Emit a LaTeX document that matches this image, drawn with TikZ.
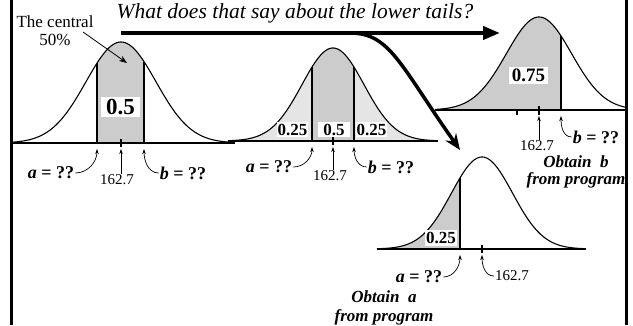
\documentclass[tikz,border=0pt]{standalone}
\usepackage{fontspec}
\setmainfont{Liberation Serif}
\usetikzlibrary{arrows.meta}
\newcommand\askq[1]{\textit{#1} = ??}
\tikzset{
 curve/.style={line width=1.1pt},
 base/.style={line width=2pt},
 split/.style={line width=2pt},
 tickmark/.style={line width=2pt},
 dark/.style={fill=black!20},
 light/.style={fill=black!10},
 val/.style={fill=white, inner xsep=1pt, inner ysep=2pt, font=\fontsize{17}{17}\selectfont\bfseries},
 ask/.style={font=\fontsize{18}{18}\selectfont\bfseries, inner sep=1pt},
 obtain/.style={font=\fontsize{17}{18}\selectfont\bfseries\itshape, inner sep=1pt, align=center},
 num/.style={font=\fontsize{15}{15}\selectfont, inner sep=1pt},
 ptr/.style={line width=0.7pt, -{Stealth[length=5pt,width=3.5pt]}},
 big/.style={line width=4pt, -{Triangle[length=17pt,width=13pt]}},
 bigcurve/.style={line width=3.5pt, -{Stealth[length=16pt,width=13pt]}},
 border/.style={line width=3pt},
 declare function={g(\x,\m,\s)=exp(-((\x-\m)/\s)^2/2);}
}
\begin{document}
\begin{tikzpicture}[x=1pt,y=-1pt]
\useasboundingbox (0,0) rectangle (633,325);
% borders
\draw[border] (11,0) -- (11,325);
\draw[border] (626,0) -- (626,325);

% ---------- curve 1 ----------
\fill[dark] (97,143) -- plot[domain=97:144,samples=40] (\x,{143-101*g(\x,121,35)}) -- (144,143) -- cycle;
\draw[curve] plot[domain=11:231,samples=120] (\x,{143-101*g(\x,121,35)});
\draw[split] (97,143) -- (97,{143-101*g(97,121,35)});
\draw[split] (144,143) -- (144,{143-101*g(144,121,35)});
\draw[base] (11,143) -- (235,143);
\draw[tickmark] (121,139) -- (121,147);
\node[val, font=\fontsize{23}{23}\selectfont\bfseries, minimum width=39pt, minimum height=20pt] (v1) at (120.5,107) {0.5};
\node[font=\fontsize{17}{18}\selectfont, align=center, inner sep=0pt] (tc) at (55,31) {The central\\50\%};
\coordinate (tcs) at (83,32);
\coordinate (tce) at (127,63);
\draw[line width=0.8pt, -{Stealth[length=8pt,width=6pt]}] (tcs) -- (tce);
\coordinate (a1) at (97,149);
\coordinate (m1) at (121,149);
\coordinate (b1) at (144,149);
\node[ask] (la1) at (51,173) {\askq{a}};
\node[num] (n1) at (117,180) {162.7};
\node[ask] (lb1) at (183,173) {\askq{b}};
\draw[ptr] (la1.east) to[out=0,in=-90] (a1);
\draw[ptr] (n1.north -| m1) -- (m1);
\draw[ptr] (lb1.west) to[out=180,in=-90] (b1);

% ---------- curve 2 ----------
\fill[light] (228,141) -- plot[domain=228:312,samples=60] (\x,{141-93*g(\x,333,31)}) -- (312,141) -- cycle;
\fill[dark] (312,141) -- plot[domain=312:354,samples=40] (\x,{141-93*g(\x,333,31)}) -- (354,141) -- cycle;
\fill[light] (354,141) -- plot[domain=354:438,samples=60] (\x,{141-93*g(\x,333,31)}) -- (438,141) -- cycle;
\draw[curve] plot[domain=228:438,samples=120] (\x,{141-93*g(\x,333,31)});
\draw[split] (312,141) -- (312,{141-93*g(312,333,31)});
\draw[split] (354,141) -- (354,{141-93*g(354,333,31)});
\draw[base] (228,141) -- (438,141);
\draw[tickmark] (333,137) -- (333,145);
\node[val] (v2a) at (292.5,129.5) {0.25};
\node[val, minimum width=32pt] (v2b) at (334,129.5) {0.5};
\node[val] (v2c) at (371.5,129.5) {0.25};
\coordinate (a2) at (312,147);
\coordinate (m2) at (333,147);
\coordinate (b2) at (354,147);
\node[ask] (la2) at (269,167) {\askq{a}};
\node[num] (n2) at (330,176) {162.7};
\node[ask] (lb2) at (391,167) {\askq{b}};
\draw[ptr] (la2.east) to[out=0,in=-90] (a2);
\draw[ptr] (n2.north -| m2) -- (m2);
\draw[ptr] (lb2.west) to[out=180,in=-90] (b2);

% ---------- curve 3 ----------
\fill[dark] (435,110) -- plot[domain=435:561,samples=80] (\x,{110-93*g(\x,539,32.6)}) -- (561,110) -- cycle;
\draw[curve] plot[domain=435:626,samples=120] (\x,{110-93*g(\x,539,32.6)});
\draw[split] (561,110) -- (561,{110-93*g(561,539,32.6)});
\draw[base] (435,110) -- (626,110);
\draw[tickmark] (517,110) -- (517,115);
\draw[tickmark] (539,106) -- (539,115);
\node[val, font=\fontsize{19}{19}\selectfont\bfseries, minimum width=39pt] (v3) at (528.5,75.5) {0.75};
\coordinate (m3) at (539,116);
\coordinate (b3) at (561,116);
\node[num] (n3) at (537,146) {162.7};
\node[ask] (lb3) at (596,137) {\askq{b}};
\draw[ptr] (n3.north -| m3) -- (m3);
\draw[ptr] (lb3.west) to[out=180,in=-90] (b3);
\node[obtain, font=\fontsize{17}{17}\selectfont\bfseries\itshape] (ob) at (576,171.5) {Obtain~ b\\from program};

% ---------- curve 4 ----------
\fill[dark] (377,249) -- plot[domain=377:460,samples=60] (\x,{249-92*g(\x,482,30.6)}) -- (460,249) -- cycle;
\draw[curve] plot[domain=377:586,samples=120] (\x,{249-92*g(\x,482,30.6)});
\draw[split] (460,249) -- (460,{249-92*g(460,482,30.6)});
\draw[base] (377,249) -- (586,249);
\draw[tickmark] (482,245) -- (482,253);
\node[val] (v4) at (441,238) {0.25};
\coordinate (a4) at (460,255);
\coordinate (m4) at (482,255);
\node[ask] (la4) at (419,277) {\askq{a}};
\node[num] (n4) at (512,276) {162.7};
\draw[ptr] (la4.east) to[out=0,in=-90] (a4);
\draw[ptr] (n4.west) to[out=180,in=-90] (m4);
\node[obtain, font=\fontsize{17}{19}\selectfont\bfseries\itshape] (oa) at (384,307.5) {Obtain~ a\\from program};

% ---------- question and big arrows ----------
\node[font=\fontsize{21.5}{21.5}\selectfont\itshape, inner sep=0pt] (q) at (295,13) {What does that say about the lower tails?};
\coordinate (s) at (121,33);
\coordinate (e) at (500,33);
\coordinate (br) at (350,33);
\coordinate (e2) at (460,150);
\draw[big] (s) -- (e);
\draw[bigcurve] (br) .. controls (390,33) and (400,65) .. (e2);
\end{tikzpicture}
\end{document}
